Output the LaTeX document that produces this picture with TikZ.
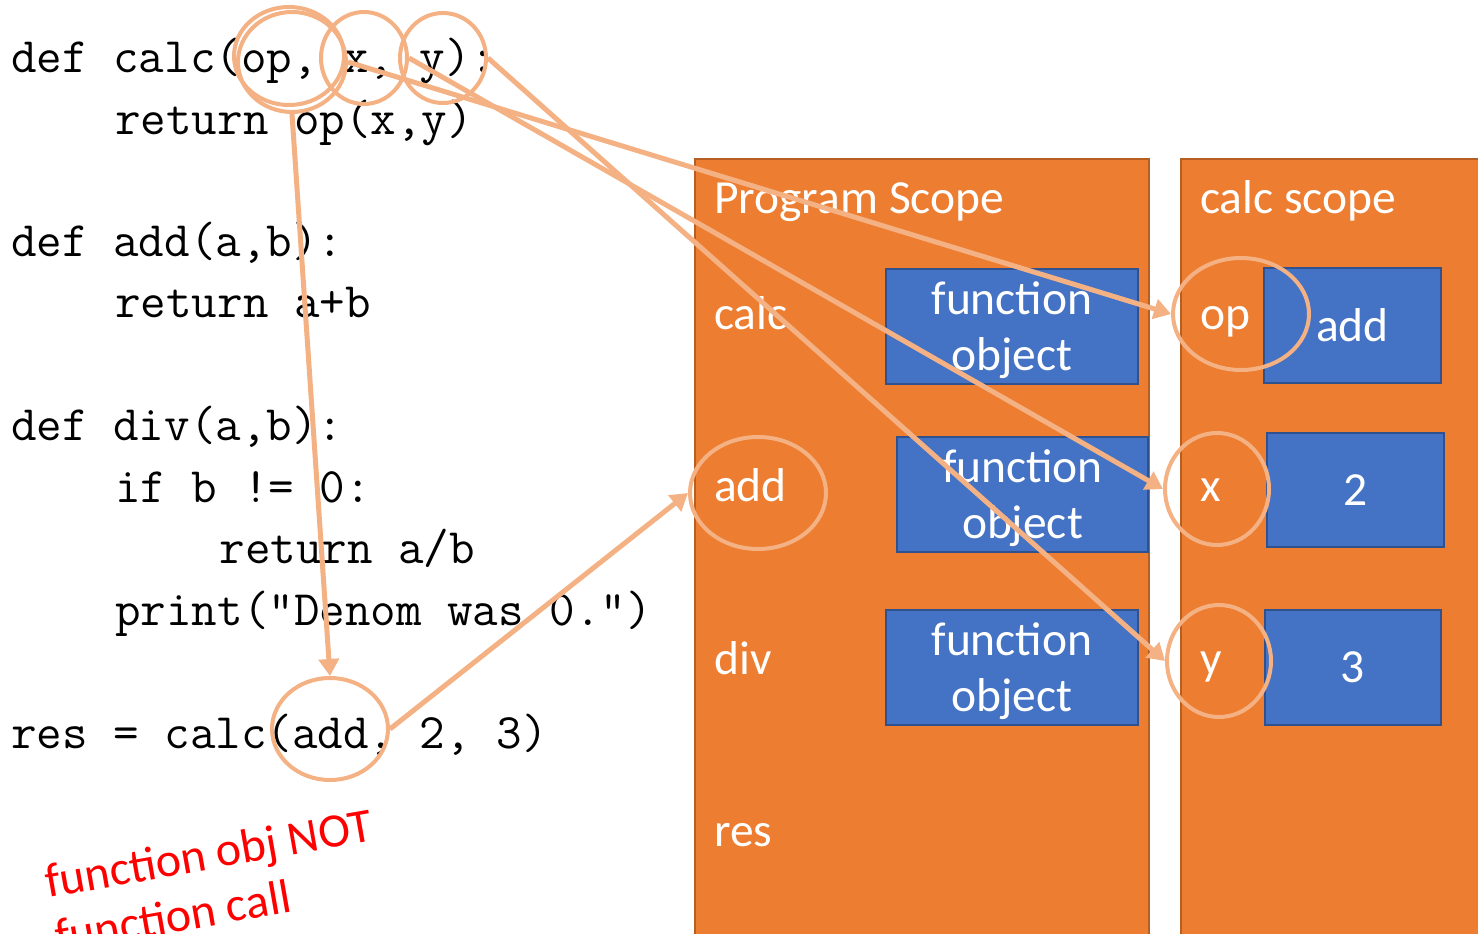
\documentclass[tikz,border=0pt]{standalone}
\usepackage{fontspec}
\setmainfont{Carlito}
\usetikzlibrary{shapes.geometric,arrows.meta}
\definecolor{scopeorange}{HTML}{ED7D31}
\definecolor{scopeedge}{HTML}{B65F22}
\definecolor{valblue}{HTML}{4472C4}
\definecolor{valedge}{HTML}{2F528F}
\definecolor{peach}{HTML}{F4B183}
\definecolor{notered}{HTML}{FF0000}
\tikzset{
  code/.style={font=\ttfamily\fontsize{49.6}{61}\selectfont, anchor=base west, inner sep=0pt, text=black},
  wlabel/.style={font=\fontsize{47.5}{56}\selectfont, text=white, anchor=base west, inner sep=0pt},
  scopebox/.style={fill=scopeorange, draw=scopeedge, line width=2pt, anchor=north west, inner sep=0pt},
  valbox/.style={fill=valblue, draw=valedge, line width=2pt, text=white,
    font=\fontsize{47.5}{56}\selectfont, align=center, inner sep=0pt, text depth=0pt},
  ring/.style={ellipse, draw=peach, line width=4pt, inner sep=0pt},
  link/.style={draw=peach, line width=5pt, -{Triangle[length=17pt,width=20pt]}},
  note/.style={font=\fontsize{48}{56}\selectfont, text=notered, anchor=base west, inner sep=0pt, rotate=10}
}
\begin{document}
\begin{tikzpicture}[x=1pt,y=-1pt]
\useasboundingbox (0,0) rectangle (1478,934);

% source code
\def\cw{26.04}
\def\cx{11}
\node[code] (l1)  at (\cx,73)          {def calc(op, x, y):};
\node[code] (l2)  at (\cx+4*\cw,134)   {return op(x,y)};
\node[code] (l4)  at (\cx,256)         {def add(a,b):};
\node[code] (l5)  at (\cx+4*\cw,317)   {return a+b};
\node[code] (l7)  at (\cx,440)         {def div(a,b):};
\node[code] (l8)  at (\cx+4*\cw,502)   {if b != 0:};
\node[code] (l9)  at (\cx+8*\cw,563)   {return a/b};
\node[code] (l10) at (\cx+4*\cw,625)   {print("Denom was 0.")};
\node[code] (l12) at (\cx,748)         {res = calc(add, 2, 3)};

% scope frames
\node[scopebox, minimum width=454, minimum height=820] (prog) at (694,158) {};
\node[scopebox, minimum width=340, minimum height=820] (calcs) at (1180,158) {};

% program scope names
\node[wlabel] (ptitle) at (714,213) {Program Scope};
\node[wlabel] (ncalc)  at (714,329) {calc};
\node[wlabel] (nadd)   at (714,501) {add};
\node[wlabel] (ndiv)   at (714,674) {div};
\node[wlabel] (nres)   at (714,846) {res};

% calc scope names
\node[wlabel] (ctitle) at (1200,213) {calc scope};
\node[wlabel] (nop)    at (1200,329) {op};
\node[wlabel] (nx)     at (1200,501) {x};
\node[wlabel] (ny)     at (1200,674) {y};

% values
\node[valbox, minimum width=252, minimum height=115] (fo1) at (1012,326.5) {function\\object};
\node[valbox, minimum width=251, minimum height=115] (fo2) at (1022.5,494.5) {function\\object};
\node[valbox, minimum width=252, minimum height=115] (fo3) at (1012,667.5) {function\\object};
\node[valbox, minimum width=177, minimum height=115] (vop) at (1352.5,325.5) {add};
\node[valbox, minimum width=177, minimum height=114] (vx)  at (1355.5,490) {2};
\node[valbox, minimum width=176, minimum height=115] (vy)  at (1353,667.5) {3};

% highlight rings
\node[ring, minimum width=110, minimum height=98]  (ropA) at (289,56) {};
\node[ring, minimum width=108, minimum height=100] (rop)  at (292,62) {};
\node[ring, minimum width=86,  minimum height=92]  (rx)   at (364,58) {};
\node[ring, minimum width=86,  minimum height=90]  (ry)   at (443,58) {};
\node[ring, minimum width=116, minimum height=102] (radd) at (330,729) {};
\node[ring, minimum width=136, minimum height=112] (padd) at (758,493) {};
\node[ring, minimum width=136, minimum height=112] (cop)  at (1241,314) {};
\node[ring, minimum width=104, minimum height=112] (cx)   at (1217,489) {};
\node[ring, minimum width=104, minimum height=112] (cy)   at (1219,661) {};

% bindings
\draw[link] (rop.south) -- (radd.north);
\draw[link] (radd.east) -- (padd.west);
\draw[link] (rop.east) -- (cop.west);
\draw[link] (rx.east) -- (cx.west);
\draw[link] (ry.east) -- (cy.west);

% remark
\node[note] (rem1) at (48,898) {function obj NOT};
\node[note] (rem2) at (58,953) {function call};
\end{tikzpicture}
\end{document}
